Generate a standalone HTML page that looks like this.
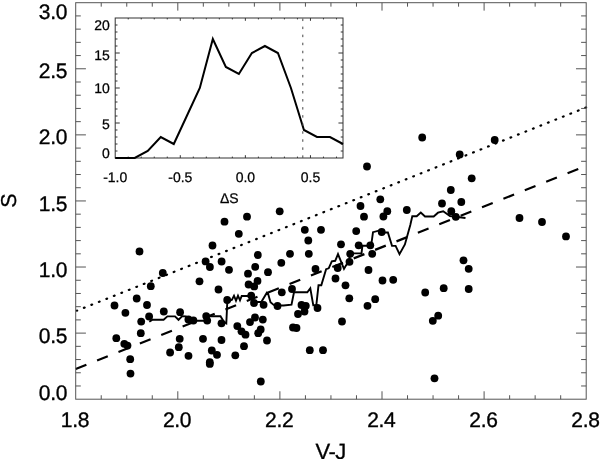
<!DOCTYPE html>
<html><head><meta charset="utf-8"><title>S vs V-J</title>
<style>html,body{margin:0;padding:0;background:#fff;width:600px;height:459px;overflow:hidden}svg{display:block}</style>
</head><body>
<svg width="600" height="459" viewBox="0 0 600 459">
<rect width="600" height="459" fill="#fff"/>
<line x1="76.8" y1="310.71" x2="586.20" y2="107.41" stroke="#000" stroke-width="2.2" stroke-dasharray="0.8 7.258" stroke-dashoffset="0.4" stroke-linecap="round"/>
<line x1="75.70" y1="369.07" x2="586.20" y2="165.84" stroke="#000" stroke-width="2.2" stroke-dasharray="11.5 11.518"/>
<g fill="#000"><circle cx="139.5" cy="251.5" r="3.9"/><circle cx="162.8" cy="273" r="3.9"/><circle cx="150.8" cy="286.2" r="3.9"/><circle cx="136.7" cy="298.5" r="3.9"/><circle cx="114.5" cy="305.5" r="3.9"/><circle cx="147" cy="305" r="3.9"/><circle cx="125.4" cy="312.8" r="3.9"/><circle cx="163.8" cy="311.5" r="3.9"/><circle cx="149.1" cy="316.5" r="3.9"/><circle cx="141.2" cy="321.6" r="3.9"/><circle cx="140.8" cy="333.2" r="3.9"/><circle cx="116.3" cy="338.2" r="3.9"/><circle cx="124.3" cy="343.8" r="3.9"/><circle cx="127.5" cy="345.6" r="3.9"/><circle cx="130.2" cy="359.2" r="3.9"/><circle cx="130.5" cy="373.6" r="3.9"/><circle cx="170.1" cy="352.5" r="3.9"/><circle cx="205.6" cy="261.4" r="3.9"/><circle cx="209.9" cy="267" r="3.9"/><circle cx="221.6" cy="261.5" r="3.9"/><circle cx="229" cy="269.8" r="3.9"/><circle cx="199.5" cy="281.3" r="3.9"/><circle cx="218.5" cy="289.5" r="3.9"/><circle cx="227.2" cy="300" r="3.9"/><circle cx="180.1" cy="312.2" r="3.9"/><circle cx="188.4" cy="319.4" r="3.9"/><circle cx="193.4" cy="320.5" r="3.9"/><circle cx="206.2" cy="316.1" r="3.9"/><circle cx="207.2" cy="320.6" r="3.9"/><circle cx="221.5" cy="323.3" r="3.9"/><circle cx="179.7" cy="338.8" r="3.9"/><circle cx="178.8" cy="347.2" r="3.9"/><circle cx="188.5" cy="355.8" r="3.9"/><circle cx="203" cy="338.8" r="3.9"/><circle cx="221.5" cy="340" r="3.9"/><circle cx="211.8" cy="350.5" r="3.9"/><circle cx="217" cy="354.8" r="3.9"/><circle cx="209.8" cy="362.2" r="3.9"/><circle cx="209.8" cy="363.9" r="3.9"/><circle cx="212.5" cy="245.5" r="3.9"/><circle cx="224.5" cy="221.7" r="3.9"/><circle cx="238.8" cy="233.8" r="3.9"/><circle cx="247" cy="216.7" r="3.9"/><circle cx="257.8" cy="255" r="3.9"/><circle cx="255.2" cy="266.8" r="3.9"/><circle cx="248" cy="273.7" r="3.9"/><circle cx="268" cy="272.2" r="3.9"/><circle cx="281.3" cy="262.8" r="3.9"/><circle cx="257.5" cy="280.9" r="3.9"/><circle cx="248.6" cy="284.5" r="3.9"/><circle cx="254.2" cy="286.4" r="3.9"/><circle cx="251.2" cy="295.6" r="3.9"/><circle cx="281.8" cy="292.3" r="3.9"/><circle cx="254" cy="303" r="3.9"/><circle cx="263.6" cy="304.8" r="3.9"/><circle cx="277.5" cy="306" r="3.9"/><circle cx="255" cy="317.5" r="3.9"/><circle cx="250" cy="322.1" r="3.9"/><circle cx="262.8" cy="319.6" r="3.9"/><circle cx="237.3" cy="326.1" r="3.9"/><circle cx="241.5" cy="331.3" r="3.9"/><circle cx="245.5" cy="334.7" r="3.9"/><circle cx="260.7" cy="329.5" r="3.9"/><circle cx="258.2" cy="333.2" r="3.9"/><circle cx="267" cy="340.5" r="3.9"/><circle cx="244" cy="346.2" r="3.9"/><circle cx="235.3" cy="355.3" r="3.9"/><circle cx="260.8" cy="381.5" r="3.9"/><circle cx="290" cy="253.8" r="3.9"/><circle cx="308.8" cy="253.8" r="3.9"/><circle cx="315.5" cy="269" r="3.9"/><circle cx="337.7" cy="268" r="3.9"/><circle cx="335.5" cy="278.5" r="3.9"/><circle cx="292" cy="289" r="3.9"/><circle cx="301.5" cy="305" r="3.9"/><circle cx="305.8" cy="305.8" r="3.9"/><circle cx="304.5" cy="311.5" r="3.9"/><circle cx="298" cy="314" r="3.9"/><circle cx="317.5" cy="308" r="3.9"/><circle cx="293" cy="327.5" r="3.9"/><circle cx="296.5" cy="328" r="3.9"/><circle cx="309.8" cy="350.2" r="3.9"/><circle cx="323" cy="350.2" r="3.9"/><circle cx="279.7" cy="211.3" r="3.9"/><circle cx="304.8" cy="229.8" r="3.9"/><circle cx="321" cy="229.8" r="3.9"/><circle cx="308.3" cy="240.5" r="3.9"/><circle cx="341" cy="244.3" r="3.9"/><circle cx="350.2" cy="253.8" r="3.9"/><circle cx="372.2" cy="253.8" r="3.9"/><circle cx="349.5" cy="261.8" r="3.9"/><circle cx="368.5" cy="270" r="3.9"/><circle cx="345.5" cy="285.3" r="3.9"/><circle cx="382.5" cy="280.5" r="3.9"/><circle cx="393.2" cy="279.8" r="3.9"/><circle cx="349.3" cy="298.3" r="3.9"/><circle cx="375.2" cy="299.2" r="3.9"/><circle cx="367.5" cy="305.8" r="3.9"/><circle cx="342" cy="321.5" r="3.9"/><circle cx="367" cy="166.5" r="3.9"/><circle cx="380.3" cy="199.3" r="3.9"/><circle cx="360.5" cy="206" r="3.9"/><circle cx="364" cy="216.7" r="3.9"/><circle cx="387.3" cy="211.2" r="3.9"/><circle cx="383.4" cy="216.5" r="3.9"/><circle cx="406.8" cy="210" r="3.9"/><circle cx="356.2" cy="231.1" r="3.9"/><circle cx="381.7" cy="232" r="3.9"/><circle cx="358.7" cy="245.3" r="3.9"/><circle cx="370.3" cy="245.3" r="3.9"/><circle cx="425.2" cy="292.5" r="3.9"/><circle cx="443.7" cy="288.2" r="3.9"/><circle cx="438.2" cy="315.7" r="3.9"/><circle cx="432.8" cy="320.8" r="3.9"/><circle cx="434.5" cy="378.3" r="3.9"/><circle cx="463.5" cy="260.3" r="3.9"/><circle cx="468.7" cy="268.8" r="3.9"/><circle cx="468.7" cy="289" r="3.9"/><circle cx="422.2" cy="137.5" r="3.9"/><circle cx="494.7" cy="140" r="3.9"/><circle cx="459.7" cy="154.5" r="3.9"/><circle cx="471.7" cy="178.3" r="3.9"/><circle cx="450.8" cy="190" r="3.9"/><circle cx="442" cy="203.5" r="3.9"/><circle cx="461.3" cy="202" r="3.9"/><circle cx="451.3" cy="211.2" r="3.9"/><circle cx="455.8" cy="216.8" r="3.9"/><circle cx="519.5" cy="218" r="3.9"/><circle cx="542" cy="222" r="3.9"/><circle cx="566" cy="236.4" r="3.9"/></g>
<polyline points="149.3,321.8 152.5,319.7 163.6,319.7 167.4,316.4 175,316.4 178.5,319.8 182,316.3 186,316.4 189,320.8 205,320.8 208,316.2 220.5,316.2 224,322 226.3,323.3 227.2,304 228,301.3 232,299.7 234,295.7 236,300.7 238,295.7 240,300.3 241.7,296 251.3,296 254.5,302 261.3,302 267,292.4 267.8,292.7 270.5,302.3 273.7,304.9 277.5,305.5 283.6,305.5 291.5,304.6 294,292.3 307.3,292.3 310.3,288.3 313.3,305.3 316.3,305.3 318.5,285.3 321.3,285.3 326.1,269.2 328.7,268.3 331.8,261.3 335.2,260.8 338,254.1 344,268.9 346.1,265.3 349.3,261.1 349.8,253.4 361.5,253.3 362.4,245.8 370.4,245.7 371.7,241.6 373,232.2 378.7,230.7 381.8,232.5 387.9,232.5 392,245.9 395.6,245.9 399.5,254.1 404.9,244.4 407.1,236.5 410.3,225 412.3,216.3 416.7,216.3 420.8,212.5 425,216.5 433.7,216.5 438,212.7 443.2,211.3 450,216 455.7,216.7 465.5,218" fill="none" stroke="#000" stroke-width="1.9" stroke-linejoin="miter" stroke-miterlimit="3"/>
<rect x="75.7" y="2.7" width="510.50" height="396.50" fill="none" stroke="#555" stroke-width="1.0"/><line x1="101.23" y1="399.20" x2="101.23" y2="395.24" stroke="#555" stroke-width="1.0"/><line x1="101.23" y1="2.70" x2="101.23" y2="6.67" stroke="#555" stroke-width="1.0"/><line x1="126.75" y1="399.20" x2="126.75" y2="395.24" stroke="#555" stroke-width="1.0"/><line x1="126.75" y1="2.70" x2="126.75" y2="6.67" stroke="#555" stroke-width="1.0"/><line x1="152.28" y1="399.20" x2="152.28" y2="395.24" stroke="#555" stroke-width="1.0"/><line x1="152.28" y1="2.70" x2="152.28" y2="6.67" stroke="#555" stroke-width="1.0"/><line x1="177.80" y1="399.20" x2="177.80" y2="391.27" stroke="#555" stroke-width="1.0"/><line x1="177.80" y1="2.70" x2="177.80" y2="10.63" stroke="#555" stroke-width="1.0"/><line x1="203.32" y1="399.20" x2="203.32" y2="395.24" stroke="#555" stroke-width="1.0"/><line x1="203.32" y1="2.70" x2="203.32" y2="6.67" stroke="#555" stroke-width="1.0"/><line x1="228.85" y1="399.20" x2="228.85" y2="395.24" stroke="#555" stroke-width="1.0"/><line x1="228.85" y1="2.70" x2="228.85" y2="6.67" stroke="#555" stroke-width="1.0"/><line x1="254.37" y1="399.20" x2="254.37" y2="395.24" stroke="#555" stroke-width="1.0"/><line x1="254.37" y1="2.70" x2="254.37" y2="6.67" stroke="#555" stroke-width="1.0"/><line x1="279.90" y1="399.20" x2="279.90" y2="391.27" stroke="#555" stroke-width="1.0"/><line x1="279.90" y1="2.70" x2="279.90" y2="10.63" stroke="#555" stroke-width="1.0"/><line x1="305.43" y1="399.20" x2="305.43" y2="395.24" stroke="#555" stroke-width="1.0"/><line x1="305.43" y1="2.70" x2="305.43" y2="6.67" stroke="#555" stroke-width="1.0"/><line x1="330.95" y1="399.20" x2="330.95" y2="395.24" stroke="#555" stroke-width="1.0"/><line x1="330.95" y1="2.70" x2="330.95" y2="6.67" stroke="#555" stroke-width="1.0"/><line x1="356.48" y1="399.20" x2="356.48" y2="395.24" stroke="#555" stroke-width="1.0"/><line x1="356.48" y1="2.70" x2="356.48" y2="6.67" stroke="#555" stroke-width="1.0"/><line x1="382.00" y1="399.20" x2="382.00" y2="391.27" stroke="#555" stroke-width="1.0"/><line x1="382.00" y1="2.70" x2="382.00" y2="10.63" stroke="#555" stroke-width="1.0"/><line x1="407.53" y1="399.20" x2="407.53" y2="395.24" stroke="#555" stroke-width="1.0"/><line x1="407.53" y1="2.70" x2="407.53" y2="6.67" stroke="#555" stroke-width="1.0"/><line x1="433.05" y1="399.20" x2="433.05" y2="395.24" stroke="#555" stroke-width="1.0"/><line x1="433.05" y1="2.70" x2="433.05" y2="6.67" stroke="#555" stroke-width="1.0"/><line x1="458.57" y1="399.20" x2="458.57" y2="395.24" stroke="#555" stroke-width="1.0"/><line x1="458.57" y1="2.70" x2="458.57" y2="6.67" stroke="#555" stroke-width="1.0"/><line x1="484.10" y1="399.20" x2="484.10" y2="391.27" stroke="#555" stroke-width="1.0"/><line x1="484.10" y1="2.70" x2="484.10" y2="10.63" stroke="#555" stroke-width="1.0"/><line x1="509.63" y1="399.20" x2="509.63" y2="395.24" stroke="#555" stroke-width="1.0"/><line x1="509.63" y1="2.70" x2="509.63" y2="6.67" stroke="#555" stroke-width="1.0"/><line x1="535.15" y1="399.20" x2="535.15" y2="395.24" stroke="#555" stroke-width="1.0"/><line x1="535.15" y1="2.70" x2="535.15" y2="6.67" stroke="#555" stroke-width="1.0"/><line x1="560.68" y1="399.20" x2="560.68" y2="395.24" stroke="#555" stroke-width="1.0"/><line x1="560.68" y1="2.70" x2="560.68" y2="6.67" stroke="#555" stroke-width="1.0"/><line x1="75.70" y1="385.98" x2="80.81" y2="385.98" stroke="#555" stroke-width="1.0"/><line x1="586.20" y1="385.98" x2="581.10" y2="385.98" stroke="#555" stroke-width="1.0"/><line x1="75.70" y1="372.77" x2="80.81" y2="372.77" stroke="#555" stroke-width="1.0"/><line x1="586.20" y1="372.77" x2="581.10" y2="372.77" stroke="#555" stroke-width="1.0"/><line x1="75.70" y1="359.55" x2="80.81" y2="359.55" stroke="#555" stroke-width="1.0"/><line x1="586.20" y1="359.55" x2="581.10" y2="359.55" stroke="#555" stroke-width="1.0"/><line x1="75.70" y1="346.33" x2="80.81" y2="346.33" stroke="#555" stroke-width="1.0"/><line x1="586.20" y1="346.33" x2="581.10" y2="346.33" stroke="#555" stroke-width="1.0"/><line x1="75.70" y1="333.12" x2="85.91" y2="333.12" stroke="#555" stroke-width="1.0"/><line x1="586.20" y1="333.12" x2="575.99" y2="333.12" stroke="#555" stroke-width="1.0"/><line x1="75.70" y1="319.90" x2="80.81" y2="319.90" stroke="#555" stroke-width="1.0"/><line x1="586.20" y1="319.90" x2="581.10" y2="319.90" stroke="#555" stroke-width="1.0"/><line x1="75.70" y1="306.68" x2="80.81" y2="306.68" stroke="#555" stroke-width="1.0"/><line x1="586.20" y1="306.68" x2="581.10" y2="306.68" stroke="#555" stroke-width="1.0"/><line x1="75.70" y1="293.47" x2="80.81" y2="293.47" stroke="#555" stroke-width="1.0"/><line x1="586.20" y1="293.47" x2="581.10" y2="293.47" stroke="#555" stroke-width="1.0"/><line x1="75.70" y1="280.25" x2="80.81" y2="280.25" stroke="#555" stroke-width="1.0"/><line x1="586.20" y1="280.25" x2="581.10" y2="280.25" stroke="#555" stroke-width="1.0"/><line x1="75.70" y1="267.03" x2="85.91" y2="267.03" stroke="#555" stroke-width="1.0"/><line x1="586.20" y1="267.03" x2="575.99" y2="267.03" stroke="#555" stroke-width="1.0"/><line x1="75.70" y1="253.82" x2="80.81" y2="253.82" stroke="#555" stroke-width="1.0"/><line x1="586.20" y1="253.82" x2="581.10" y2="253.82" stroke="#555" stroke-width="1.0"/><line x1="75.70" y1="240.60" x2="80.81" y2="240.60" stroke="#555" stroke-width="1.0"/><line x1="586.20" y1="240.60" x2="581.10" y2="240.60" stroke="#555" stroke-width="1.0"/><line x1="75.70" y1="227.38" x2="80.81" y2="227.38" stroke="#555" stroke-width="1.0"/><line x1="586.20" y1="227.38" x2="581.10" y2="227.38" stroke="#555" stroke-width="1.0"/><line x1="75.70" y1="214.17" x2="80.81" y2="214.17" stroke="#555" stroke-width="1.0"/><line x1="586.20" y1="214.17" x2="581.10" y2="214.17" stroke="#555" stroke-width="1.0"/><line x1="75.70" y1="200.95" x2="85.91" y2="200.95" stroke="#555" stroke-width="1.0"/><line x1="586.20" y1="200.95" x2="575.99" y2="200.95" stroke="#555" stroke-width="1.0"/><line x1="75.70" y1="187.73" x2="80.81" y2="187.73" stroke="#555" stroke-width="1.0"/><line x1="586.20" y1="187.73" x2="581.10" y2="187.73" stroke="#555" stroke-width="1.0"/><line x1="75.70" y1="174.52" x2="80.81" y2="174.52" stroke="#555" stroke-width="1.0"/><line x1="586.20" y1="174.52" x2="581.10" y2="174.52" stroke="#555" stroke-width="1.0"/><line x1="75.70" y1="161.30" x2="80.81" y2="161.30" stroke="#555" stroke-width="1.0"/><line x1="586.20" y1="161.30" x2="581.10" y2="161.30" stroke="#555" stroke-width="1.0"/><line x1="75.70" y1="148.08" x2="80.81" y2="148.08" stroke="#555" stroke-width="1.0"/><line x1="586.20" y1="148.08" x2="581.10" y2="148.08" stroke="#555" stroke-width="1.0"/><line x1="75.70" y1="134.87" x2="85.91" y2="134.87" stroke="#555" stroke-width="1.0"/><line x1="586.20" y1="134.87" x2="575.99" y2="134.87" stroke="#555" stroke-width="1.0"/><line x1="75.70" y1="121.65" x2="80.81" y2="121.65" stroke="#555" stroke-width="1.0"/><line x1="586.20" y1="121.65" x2="581.10" y2="121.65" stroke="#555" stroke-width="1.0"/><line x1="75.70" y1="108.43" x2="80.81" y2="108.43" stroke="#555" stroke-width="1.0"/><line x1="586.20" y1="108.43" x2="581.10" y2="108.43" stroke="#555" stroke-width="1.0"/><line x1="75.70" y1="95.22" x2="80.81" y2="95.22" stroke="#555" stroke-width="1.0"/><line x1="586.20" y1="95.22" x2="581.10" y2="95.22" stroke="#555" stroke-width="1.0"/><line x1="75.70" y1="82.00" x2="80.81" y2="82.00" stroke="#555" stroke-width="1.0"/><line x1="586.20" y1="82.00" x2="581.10" y2="82.00" stroke="#555" stroke-width="1.0"/><line x1="75.70" y1="68.78" x2="85.91" y2="68.78" stroke="#555" stroke-width="1.0"/><line x1="586.20" y1="68.78" x2="575.99" y2="68.78" stroke="#555" stroke-width="1.0"/><line x1="75.70" y1="55.57" x2="80.81" y2="55.57" stroke="#555" stroke-width="1.0"/><line x1="586.20" y1="55.57" x2="581.10" y2="55.57" stroke="#555" stroke-width="1.0"/><line x1="75.70" y1="42.35" x2="80.81" y2="42.35" stroke="#555" stroke-width="1.0"/><line x1="586.20" y1="42.35" x2="581.10" y2="42.35" stroke="#555" stroke-width="1.0"/><line x1="75.70" y1="29.13" x2="80.81" y2="29.13" stroke="#555" stroke-width="1.0"/><line x1="586.20" y1="29.13" x2="581.10" y2="29.13" stroke="#555" stroke-width="1.0"/><line x1="75.70" y1="15.92" x2="80.81" y2="15.92" stroke="#555" stroke-width="1.0"/><line x1="586.20" y1="15.92" x2="581.10" y2="15.92" stroke="#555" stroke-width="1.0"/><rect x="115.2" y="18.0" width="227.80" height="140.00" fill="#fff" stroke="#333" stroke-width="1.0"/><line x1="128.22" y1="158.00" x2="128.22" y2="156.60" stroke="#333" stroke-width="1.0"/><line x1="128.22" y1="18.00" x2="128.22" y2="19.40" stroke="#333" stroke-width="1.0"/><line x1="141.23" y1="158.00" x2="141.23" y2="156.60" stroke="#333" stroke-width="1.0"/><line x1="141.23" y1="18.00" x2="141.23" y2="19.40" stroke="#333" stroke-width="1.0"/><line x1="154.25" y1="158.00" x2="154.25" y2="156.60" stroke="#333" stroke-width="1.0"/><line x1="154.25" y1="18.00" x2="154.25" y2="19.40" stroke="#333" stroke-width="1.0"/><line x1="167.27" y1="158.00" x2="167.27" y2="156.60" stroke="#333" stroke-width="1.0"/><line x1="167.27" y1="18.00" x2="167.27" y2="19.40" stroke="#333" stroke-width="1.0"/><line x1="180.29" y1="158.00" x2="180.29" y2="155.20" stroke="#333" stroke-width="1.0"/><line x1="180.29" y1="18.00" x2="180.29" y2="20.80" stroke="#333" stroke-width="1.0"/><line x1="193.30" y1="158.00" x2="193.30" y2="156.60" stroke="#333" stroke-width="1.0"/><line x1="193.30" y1="18.00" x2="193.30" y2="19.40" stroke="#333" stroke-width="1.0"/><line x1="206.32" y1="158.00" x2="206.32" y2="156.60" stroke="#333" stroke-width="1.0"/><line x1="206.32" y1="18.00" x2="206.32" y2="19.40" stroke="#333" stroke-width="1.0"/><line x1="219.34" y1="158.00" x2="219.34" y2="156.60" stroke="#333" stroke-width="1.0"/><line x1="219.34" y1="18.00" x2="219.34" y2="19.40" stroke="#333" stroke-width="1.0"/><line x1="232.35" y1="158.00" x2="232.35" y2="156.60" stroke="#333" stroke-width="1.0"/><line x1="232.35" y1="18.00" x2="232.35" y2="19.40" stroke="#333" stroke-width="1.0"/><line x1="245.37" y1="158.00" x2="245.37" y2="155.20" stroke="#333" stroke-width="1.0"/><line x1="245.37" y1="18.00" x2="245.37" y2="20.80" stroke="#333" stroke-width="1.0"/><line x1="258.39" y1="158.00" x2="258.39" y2="156.60" stroke="#333" stroke-width="1.0"/><line x1="258.39" y1="18.00" x2="258.39" y2="19.40" stroke="#333" stroke-width="1.0"/><line x1="271.41" y1="158.00" x2="271.41" y2="156.60" stroke="#333" stroke-width="1.0"/><line x1="271.41" y1="18.00" x2="271.41" y2="19.40" stroke="#333" stroke-width="1.0"/><line x1="284.42" y1="158.00" x2="284.42" y2="156.60" stroke="#333" stroke-width="1.0"/><line x1="284.42" y1="18.00" x2="284.42" y2="19.40" stroke="#333" stroke-width="1.0"/><line x1="297.44" y1="158.00" x2="297.44" y2="156.60" stroke="#333" stroke-width="1.0"/><line x1="297.44" y1="18.00" x2="297.44" y2="19.40" stroke="#333" stroke-width="1.0"/><line x1="310.46" y1="158.00" x2="310.46" y2="155.20" stroke="#333" stroke-width="1.0"/><line x1="310.46" y1="18.00" x2="310.46" y2="20.80" stroke="#333" stroke-width="1.0"/><line x1="323.47" y1="158.00" x2="323.47" y2="156.60" stroke="#333" stroke-width="1.0"/><line x1="323.47" y1="18.00" x2="323.47" y2="19.40" stroke="#333" stroke-width="1.0"/><line x1="336.49" y1="158.00" x2="336.49" y2="156.60" stroke="#333" stroke-width="1.0"/><line x1="336.49" y1="18.00" x2="336.49" y2="19.40" stroke="#333" stroke-width="1.0"/><line x1="115.20" y1="151.00" x2="117.48" y2="151.00" stroke="#333" stroke-width="1.0"/><line x1="343.00" y1="151.00" x2="340.72" y2="151.00" stroke="#333" stroke-width="1.0"/><line x1="115.20" y1="144.00" x2="117.48" y2="144.00" stroke="#333" stroke-width="1.0"/><line x1="343.00" y1="144.00" x2="340.72" y2="144.00" stroke="#333" stroke-width="1.0"/><line x1="115.20" y1="137.00" x2="117.48" y2="137.00" stroke="#333" stroke-width="1.0"/><line x1="343.00" y1="137.00" x2="340.72" y2="137.00" stroke="#333" stroke-width="1.0"/><line x1="115.20" y1="130.00" x2="117.48" y2="130.00" stroke="#333" stroke-width="1.0"/><line x1="343.00" y1="130.00" x2="340.72" y2="130.00" stroke="#333" stroke-width="1.0"/><line x1="115.20" y1="123.00" x2="119.76" y2="123.00" stroke="#333" stroke-width="1.0"/><line x1="343.00" y1="123.00" x2="338.44" y2="123.00" stroke="#333" stroke-width="1.0"/><line x1="115.20" y1="116.00" x2="117.48" y2="116.00" stroke="#333" stroke-width="1.0"/><line x1="343.00" y1="116.00" x2="340.72" y2="116.00" stroke="#333" stroke-width="1.0"/><line x1="115.20" y1="109.00" x2="117.48" y2="109.00" stroke="#333" stroke-width="1.0"/><line x1="343.00" y1="109.00" x2="340.72" y2="109.00" stroke="#333" stroke-width="1.0"/><line x1="115.20" y1="102.00" x2="117.48" y2="102.00" stroke="#333" stroke-width="1.0"/><line x1="343.00" y1="102.00" x2="340.72" y2="102.00" stroke="#333" stroke-width="1.0"/><line x1="115.20" y1="95.00" x2="117.48" y2="95.00" stroke="#333" stroke-width="1.0"/><line x1="343.00" y1="95.00" x2="340.72" y2="95.00" stroke="#333" stroke-width="1.0"/><line x1="115.20" y1="88.00" x2="119.76" y2="88.00" stroke="#333" stroke-width="1.0"/><line x1="343.00" y1="88.00" x2="338.44" y2="88.00" stroke="#333" stroke-width="1.0"/><line x1="115.20" y1="81.00" x2="117.48" y2="81.00" stroke="#333" stroke-width="1.0"/><line x1="343.00" y1="81.00" x2="340.72" y2="81.00" stroke="#333" stroke-width="1.0"/><line x1="115.20" y1="74.00" x2="117.48" y2="74.00" stroke="#333" stroke-width="1.0"/><line x1="343.00" y1="74.00" x2="340.72" y2="74.00" stroke="#333" stroke-width="1.0"/><line x1="115.20" y1="67.00" x2="117.48" y2="67.00" stroke="#333" stroke-width="1.0"/><line x1="343.00" y1="67.00" x2="340.72" y2="67.00" stroke="#333" stroke-width="1.0"/><line x1="115.20" y1="60.00" x2="117.48" y2="60.00" stroke="#333" stroke-width="1.0"/><line x1="343.00" y1="60.00" x2="340.72" y2="60.00" stroke="#333" stroke-width="1.0"/><line x1="115.20" y1="53.00" x2="119.76" y2="53.00" stroke="#333" stroke-width="1.0"/><line x1="343.00" y1="53.00" x2="338.44" y2="53.00" stroke="#333" stroke-width="1.0"/><line x1="115.20" y1="46.00" x2="117.48" y2="46.00" stroke="#333" stroke-width="1.0"/><line x1="343.00" y1="46.00" x2="340.72" y2="46.00" stroke="#333" stroke-width="1.0"/><line x1="115.20" y1="39.00" x2="117.48" y2="39.00" stroke="#333" stroke-width="1.0"/><line x1="343.00" y1="39.00" x2="340.72" y2="39.00" stroke="#333" stroke-width="1.0"/><line x1="115.20" y1="32.00" x2="117.48" y2="32.00" stroke="#333" stroke-width="1.0"/><line x1="343.00" y1="32.00" x2="340.72" y2="32.00" stroke="#333" stroke-width="1.0"/><line x1="115.20" y1="25.00" x2="117.48" y2="25.00" stroke="#333" stroke-width="1.0"/><line x1="343.00" y1="25.00" x2="340.72" y2="25.00" stroke="#333" stroke-width="1.0"/>
<polyline points="115.20,158.00 121.71,158.00 134.73,158.00 147.74,151.00 160.76,137.00 173.78,144.00 186.79,116.00 199.81,88.00 212.83,39.00 225.85,67.00 238.86,74.00 251.88,53.00 264.90,46.00 277.91,53.00 290.93,88.00 303.95,130.00 316.97,137.00 329.98,137.00 343.00,144.00" fill="none" stroke="#000" stroke-width="2" stroke-linejoin="miter"/>
<line x1="302.8" y1="18.00" x2="302.8" y2="158.00" stroke="#444" stroke-width="1" stroke-dasharray="2.5 5.55" stroke-dashoffset="-0.55"/>
<g font-family="'Liberation Sans', Arial, Helvetica, sans-serif" fill="#000" text-rendering="geometricPrecision">
<text x="67.10" y="19.30" font-size="21" text-anchor="end" letter-spacing="-0.3" stroke="#000" stroke-width="0.35">3.0</text><text x="67.10" y="78.33" font-size="21" text-anchor="end" letter-spacing="-0.3" stroke="#000" stroke-width="0.35">2.5</text><text x="67.10" y="144.42" font-size="21" text-anchor="end" letter-spacing="-0.3" stroke="#000" stroke-width="0.35">2.0</text><text x="67.10" y="210.50" font-size="21" text-anchor="end" letter-spacing="-0.3" stroke="#000" stroke-width="0.35">1.5</text><text x="67.10" y="276.58" font-size="21" text-anchor="end" letter-spacing="-0.3" stroke="#000" stroke-width="0.35">1.0</text><text x="67.10" y="342.67" font-size="21" text-anchor="end" letter-spacing="-0.3" stroke="#000" stroke-width="0.35">0.5</text><text x="67.10" y="399.50" font-size="21" text-anchor="end" letter-spacing="-0.3" stroke="#000" stroke-width="0.35">0.0</text><text x="75.00" y="426.90" font-size="21" text-anchor="middle" letter-spacing="-0.3" stroke="#000" stroke-width="0.35">1.8</text><text x="177.10" y="426.90" font-size="21" text-anchor="middle" letter-spacing="-0.3" stroke="#000" stroke-width="0.35">2.0</text><text x="279.20" y="426.90" font-size="21" text-anchor="middle" letter-spacing="-0.3" stroke="#000" stroke-width="0.35">2.2</text><text x="381.30" y="426.90" font-size="21" text-anchor="middle" letter-spacing="-0.3" stroke="#000" stroke-width="0.35">2.4</text><text x="483.40" y="426.90" font-size="21" text-anchor="middle" letter-spacing="-0.3" stroke="#000" stroke-width="0.35">2.6</text><text x="585.50" y="426.90" font-size="21" text-anchor="middle" letter-spacing="-0.3" stroke="#000" stroke-width="0.35">2.8</text><text x="330.60" y="459.00" font-size="22" text-anchor="middle" letter-spacing="-0.6" stroke="#000" stroke-width="0.3">V-J</text><text x="0" y="0" font-size="21.5" text-anchor="middle" stroke="#000" stroke-width="0.3" transform="translate(16.2,200.7) rotate(-90)">S</text><text x="109.80" y="29.50" font-size="14" text-anchor="end" stroke="#000" stroke-width="0.25">20</text><text x="109.80" y="59.50" font-size="14" text-anchor="end" stroke="#000" stroke-width="0.25">15</text><text x="109.80" y="93.20" font-size="14" text-anchor="end" stroke="#000" stroke-width="0.25">10</text><text x="109.80" y="129.10" font-size="14" text-anchor="end" stroke="#000" stroke-width="0.25">5</text><text x="109.80" y="157.70" font-size="14" text-anchor="end" stroke="#000" stroke-width="0.25">0</text><text x="115.20" y="182.30" font-size="14" text-anchor="middle" stroke="#000" stroke-width="0.25">-1.0</text><text x="180.29" y="182.30" font-size="14" text-anchor="middle" stroke="#000" stroke-width="0.25">-0.5</text><text x="245.37" y="182.30" font-size="14" text-anchor="middle" stroke="#000" stroke-width="0.25">0.0</text><text x="310.46" y="182.30" font-size="14" text-anchor="middle" stroke="#000" stroke-width="0.25">0.5</text><text x="229.30" y="203.00" font-size="14" text-anchor="middle" stroke="#000" stroke-width="0.25">ΔS</text>
</g>
</svg>
</body></html>
